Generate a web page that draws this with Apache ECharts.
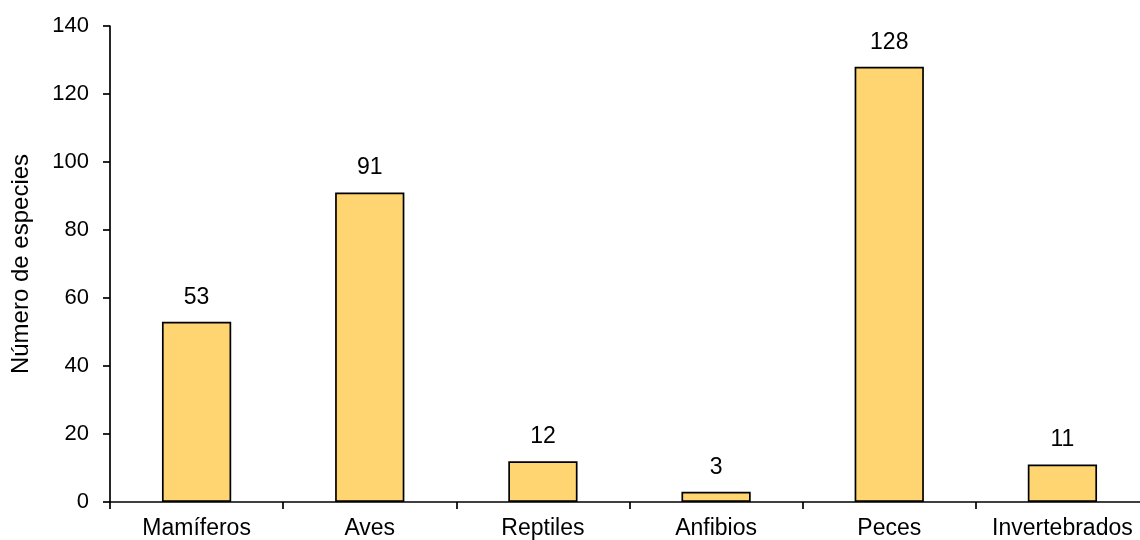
<!DOCTYPE html>
<html><head><meta charset="utf-8">
<script src="https://cdn.jsdelivr.net/npm/echarts@6/dist/echarts.min.js"></script>
<style>html,body{margin:0;padding:0;background:#fff}#c{width:1140px;height:540px}</style>
</head><body><div id="c"></div>
<script>
var categories = ['Mamíferos','Aves','Reptiles','Anfibios','Peces','Invertebrados'];
var values = [53, 91, 12, 3, 128, 11];
var yTicks = {min: 0, max: 140, interval: 20};
var yName = 'Número de especies';

var chart = echarts.init(document.getElementById('c'), null, {renderer:'canvas'});
var font = 'Liberation Sans, Arial, sans-serif';
chart.setOption({
  animation: false,
  grid: {left: 110, width: 1039, top: 26, height: 476, containLabel: false, outerBoundsMode: 'none'},
  xAxis: {
    type: 'category', data: categories,
    axisLine: {lineStyle: {color: '#000', width: 1.7}},
    axisTick: {show: true, length: 7, lineStyle: {color: '#000', width: 1.7}},
    axisLabel: {color: '#000', fontSize: 23, fontFamily: font, margin: 15, interval: 0}
  },
  yAxis: {
    type: 'value', min: yTicks.min, max: yTicks.max, interval: yTicks.interval,
    name: yName, nameLocation: 'middle', nameGap: 77, nameRotate: 90,
    nameTextStyle: {color: '#000', fontSize: 24, fontFamily: font},
    axisLine: {show: true, lineStyle: {color: '#000', width: 1.7}},
    axisTick: {show: true, length: 7, lineStyle: {color: '#000', width: 1.7}},
    axisLabel: {color: '#000', fontSize: 22, fontFamily: font, margin: 21},
    splitLine: {show: false}
  },
  series: [{
    type: 'bar', data: values, barWidth: '40%',
    itemStyle: {color: '#FFD571', borderColor: '#000', borderWidth: 1.7},
    label: {show: true, position: 'top', distance: 13, color: '#000', fontSize: 23, fontFamily: font}
  }]
});
</script></body></html>
